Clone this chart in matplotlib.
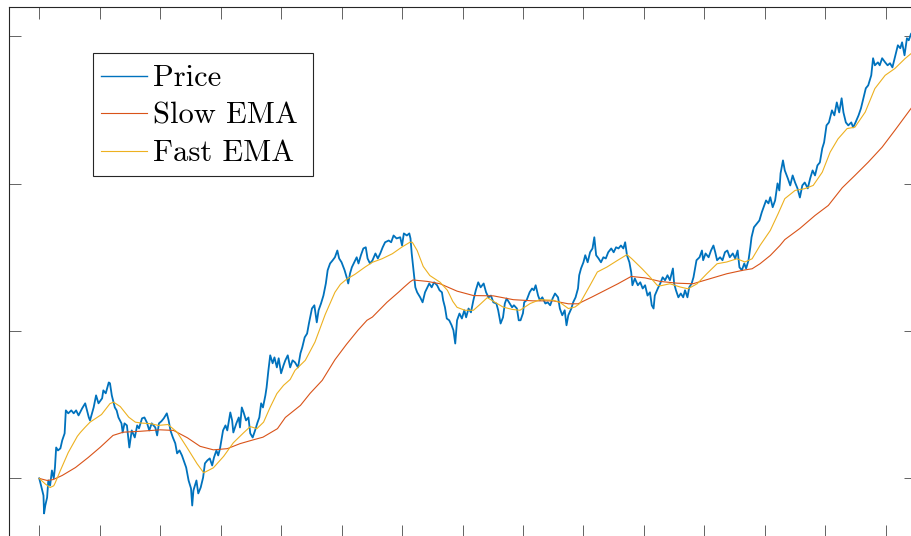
import matplotlib
matplotlib.use("Agg")
import matplotlib.pyplot as plt
from matplotlib.patches import Rectangle

# Daily price series (trading day, price)
price_day = [
    0, 3, 7, 8, 10, 13, 15, 18, 21, 24, 26, 28, 31, 35, 38, 42, 44, 48, 53, 57,
    61, 65, 71, 76, 82, 84, 90, 94, 98, 104, 106, 110, 115, 117, 120, 125, 128, 131, 136, 138,
    141, 145, 149, 153, 158, 162, 165, 170, 174, 178, 182, 186, 192, 195, 198,
    202, 206, 211, 214, 217, 221, 225, 228, 232, 236, 240, 243, 247, 251, 253, 255, 260, 263, 267, 271,
    274, 278, 282, 286, 289, 293, 296, 299, 304, 308, 311, 316, 319, 321, 326, 330, 332, 335, 338, 342,
    346, 349, 353, 357, 361, 364, 367, 370, 374, 376, 379, 382, 386, 389, 393, 396, 400, 404,
    407, 411, 415, 419, 423, 428, 432, 435, 439, 443, 446, 451, 455, 459, 462, 466, 470, 474, 477, 481,
    485, 489, 493, 496, 500, 505, 509, 511, 514, 517, 521, 525, 528, 532, 536, 540, 543, 547, 551, 556,
    560, 564, 568, 572, 578, 582, 586, 591, 597, 600, 603, 608, 612,
    614, 616, 619, 622, 625, 630, 634, 638, 642, 645, 649, 653, 658, 662, 666, 668, 671, 674, 678, 682,
    685, 688, 691, 695, 699, 703, 706, 710, 714, 718, 722, 726, 730, 735, 739, 743, 747, 751, 756, 759,
    763, 767, 770, 773, 778, 782, 785, 790, 793, 796, 800, 802, 806, 811, 815, 818,
    821, 825, 828, 832, 837, 841, 845, 849, 853, 858, 861, 865, 869, 872, 875, 880, 883, 887, 891, 893,
    896, 900, 903, 907, 911, 915, 918, 921, 925, 929, 933, 937, 941, 946, 950, 954, 958, 962, 966, 969,
    972, 976, 979, 981, 985, 990, 994, 998, 1002, 1006, 1010, 1013, 1016, 1018, 1023, 1027,
    1031, 1035, 1039, 1043, 1048, 1050, 1053, 1057, 1061, 1065, 1068, 1072, 1075, 1079, 1082, 1085, 1087, 1092, 1096, 1098,
    1102, 1107, 1111, 1115, 1118, 1121, 1126, 1130, 1134, 1138, 1142, 1147, 1151, 1155, 1158, 1162, 1166, 1169, 1173, 1176,
    1178, 1182, 1187, 1191, 1195, 1199, 1202, 1206, 1209, 1213, 1217, 1221, 1224, 1226, 1230, 1233,
    1238, 1242, 1246, 1250, 1254, 1258, 1262, 1266, 1271, 1275, 1279, 1283, 1287, 1291, 1295, 1298, 1302, 1306, 1311, 1315,
    1319, 1323, 1327, 1330, 1334, 1338, 1343, 1346, 1350, 1355, 1359, 1363, 1367, 1371, 1376, 1379, 1382, 1387, 1390, 1394,
    1399, 1403, 1407, 1411, 1415, 1420, 1424, 1427, 1431, 1435, 1438, 1442, 1450,
]
price = [
    99.9, 97.5, 94.1, 88.0, 90.7, 93.4, 99.2, 97.5, 102.6, 99.9, 103.6, 110.4, 109.4, 110.1, 112.8, 115.2, 123.0, 122.0, 123.0, 122.0,
    123.0, 121.3, 123.7, 125.4, 120.6, 119.6, 124.0, 128.1, 125.4, 127.1, 129.8, 128.8, 132.5, 132.2, 128.1, 124.0, 123.0, 120.6, 118.6, 115.5,
    118.6, 117.9, 110.4, 116.2, 113.8, 117.9, 116.9, 120.3, 120.6, 118.9, 116.2, 118.6, 117.2, 114.5, 118.6,
    119.3, 120.3, 122.0, 119.6, 116.2, 113.8, 111.8, 108.4, 109.4, 107.7, 105.3, 103.6, 99.2, 96.5, 90.7, 95.8, 99.2, 94.8, 96.8, 100.2,
    105.0, 106.0, 106.7, 104.3, 107.0, 109.4, 107.7, 110.1, 116.2, 117.9, 116.2, 122.3, 119.6, 115.5, 118.6, 120.6, 117.2, 124.0, 122.3, 119.6,
    120.6, 115.2, 113.8, 116.2, 118.9, 120.6, 125.4, 124.0, 128.1, 130.8, 136.6, 141.7, 139.0, 141.0, 137.6, 140.7, 135.6, 138.3,
    140.0, 141.7, 137.6, 140.0, 139.3, 137.6, 142.4, 144.4, 147.8, 149.1, 152.5, 157.6, 158.7, 152.9, 157.0, 159.3, 162.0, 166.1, 170.6, 172.9,
    173.9, 175.0, 177.3, 174.6, 173.3, 170.6, 167.8, 166.1, 169.5, 171.6, 173.3, 175.0, 172.9, 175.7, 178.0, 178.4, 174.6, 172.9, 173.9, 176.3,
    174.6, 176.3, 178.4, 180.1, 180.7, 180.1, 182.4, 181.4, 181.8, 179.0, 183.1, 182.4, 183.1,
    181.4, 176.3, 170.6, 164.8, 163.1, 161.4, 159.7, 163.1, 164.8, 166.1, 164.8, 166.5, 165.5, 163.8, 163.1, 160.4, 158.0, 154.2, 153.6, 151.9,
    150.2, 145.7, 153.6, 155.9, 154.2, 157.0, 154.6, 157.6, 156.3, 160.4, 163.8, 166.5, 164.8, 166.1, 163.1, 161.4, 162.0, 159.7, 159.3, 157.0,
    152.5, 154.6, 159.3, 161.0, 159.3, 158.0, 158.7, 157.6, 153.6, 153.6, 156.0, 159.7, 160.4, 163.1, 164.4, 163.8,
    165.5, 162.0, 160.4, 161.4, 159.3, 159.7, 158.7, 161.0, 162.7, 161.4, 157.6, 155.3, 157.0, 151.9, 155.3, 157.6, 159.7, 161.4, 164.4, 168.9,
    171.2, 173.3, 175.7, 173.3, 176.7, 178.0, 181.8, 175.7, 174.6, 173.3, 175.0, 174.6, 176.7, 178.0, 176.7, 178.4, 178.0, 179.0, 178.0, 180.1,
    175.7, 173.3, 169.9, 165.5, 167.8, 165.5, 166.5, 164.4, 165.5, 162.0, 163.1, 158.7, 157.6, 162.0, 164.4, 166.1,
    168.2, 167.2, 168.9, 167.2, 171.2, 166.1, 163.8, 161.4, 162.7, 161.4, 163.8, 161.4, 164.8, 166.1, 168.2, 171.6, 174.0, 175.0, 177.3, 174.0,
    176.3, 175.0, 177.3, 179.0, 176.7, 174.0, 175.0, 174.0, 176.7, 177.3, 175.0, 176.3, 174.6, 177.3, 171.6, 170.6, 172.9, 171.2, 174.0, 178.4,
    181.8, 185.2, 186.5, 187.5, 190.3, 192.6, 194.3, 193.3, 195.4, 192.0, 194.3, 200.1, 197.7, 203.5, 207.9, 204.5,
    201.8, 199.4, 202.8, 200.4, 198.4, 195.3, 199.4, 200.4, 198.4, 201.8, 204.5, 202.8, 206.2, 207.2, 212.0, 214.0, 219.8, 220.8, 224.9, 223.2,
    227.6, 224.2, 229.0, 224.2, 220.8, 219.8, 220.8, 219.1, 220.8, 223.2, 225.6, 229.0, 232.4, 233.4, 236.8, 242.6, 240.2, 241.2, 240.2, 242.6,
    241.2, 240.2, 240.9, 239.5, 242.9, 247.0, 246.0, 248.0, 243.6, 249.4, 248.7, 251.0, 250.0,
]

# Slow exponential moving average
slow_day = [
    0, 13, 23, 38, 60, 81, 101, 122, 139, 167, 200, 222, 245, 266, 288, 311, 332, 354, 370, 394,
    407, 432, 448, 468, 489, 508, 527, 542, 551, 575, 594, 603, 613, 618, 642, 663, 691, 718, 751, 784,
    817, 850, 875, 891, 914, 936, 957, 979, 1002, 1027, 1055, 1081, 1109, 1137, 1164, 1179, 1192, 1209, 1225, 1233,
    1258, 1283, 1305, 1328, 1349, 1371, 1394, 1415, 1442,
]
slow_ema = [
    99.9, 99.2, 99.5, 100.9, 103.6, 107.0, 110.5, 114.5, 115.6, 115.9, 116.4, 116.2, 113.7, 110.8, 109.6, 110.0, 111.7, 113.0, 113.9, 116.8,
    120.6, 124.7, 128.8, 133.2, 140.2, 145.4, 150.2, 153.6, 154.7, 159.7, 163.1, 164.8, 166.6, 167.3, 166.8, 166.0, 163.5, 162.0, 161.9, 160.6,
    160.2, 160.2, 159.2, 159.2, 161.5, 163.8, 166.0, 168.5, 168.0, 166.8, 166.2, 166.0, 167.7, 169.4, 170.6, 171.1, 172.8, 175.6, 179.0, 181.0,
    184.8, 189.2, 192.6, 198.6, 202.8, 207.3, 212.4, 218.1, 225.6,
]

# Fast exponential moving average
fast_day = [
    0, 10, 18, 24, 26, 35, 48, 63, 68, 76, 84, 103, 117, 123, 134, 148, 159, 169, 184, 197,
    213, 228, 244, 261, 272, 288, 305, 321, 338, 349, 360, 371, 382, 393, 404, 415, 423, 440, 456, 473,
    489, 498, 508, 522, 539, 551, 567, 584, 600, 613, 617, 625, 635, 646, 663, 675, 684, 691, 704, 718,
    729, 741, 754, 767, 782, 795, 812, 828, 850, 861, 875, 886, 894, 911, 923, 939, 956, 972, 980, 997,
    1010, 1022, 1027, 1043, 1060, 1073, 1088, 1104, 1121, 1137, 1154, 1167, 1179, 1192, 1209, 1222, 1233, 1250, 1266, 1280,
    1295, 1308, 1321, 1336, 1349, 1366, 1382, 1399, 1415, 1432, 1442,
]
fast_ema = [
    99.9, 98.0, 96.8, 97.4, 98.2, 102.6, 108.7, 114.2, 115.5, 117.3, 119.0, 121.6, 125.3, 125.8, 124.3, 120.7, 119.0, 118.7, 118.5, 117.9,
    118.2, 115.6, 110.5, 104.9, 101.8, 103.5, 107.4, 112.0, 115.4, 117.5, 116.8, 119.0, 124.1, 128.7, 131.5, 133.5, 136.6, 140.0, 146.2, 155.6,
    163.1, 165.8, 167.5, 169.2, 171.7, 173.3, 174.5, 176.2, 178.5, 180.1, 180.1, 177.3, 171.9, 168.8, 166.5, 163.8, 160.0, 158.0, 157.0, 157.0,
    159.0, 161.3, 159.7, 158.1, 157.3, 157.0, 159.3, 160.6, 160.4, 159.7, 157.6, 158.1, 159.3, 165.5, 170.0, 171.7, 173.9, 175.9, 174.5, 171.1,
    168.3, 165.5, 165.3, 166.0, 164.9, 164.3, 166.0, 169.4, 172.8, 173.4, 174.5, 173.4, 174.5, 179.0, 184.1, 189.8, 194.9, 197.7, 198.3, 199.4,
    203.9, 210.7, 215.2, 218.7, 219.2, 224.3, 232.3, 236.8, 239.1, 242.5, 244.2,
]

series_labels = ["Price", "Slow EMA", "Fast EMA"]
series_colors = ["#0072BD", "#D95319", "#EDB120"]
x_ticks = list(range(0, 1401, 100))
y_ticks = [100, 150, 200, 250]

W, H = 911, 536
fig = plt.figure(figsize=(W / 100, H / 100), dpi=100)
ax = fig.add_axes([9 / W, -1 / H, 907 / W, 530 / H])

h_price, = ax.plot(price_day, price, color=series_colors[0], lw=1.3)
h_slow, = ax.plot(slow_day, slow_ema, color=series_colors[1], lw=0.8)
h_fast, = ax.plot(fast_day, fast_ema, color=series_colors[2], lw=0.8)

ax.set_xlim(-50, 1450)
ax.set_ylim(80, 260)
ax.set_xticks(x_ticks)
ax.set_yticks(y_ticks)
ax.tick_params(direction="in", length=8.4, width=0.5, color="#262626",
               top=True, right=True, labelbottom=False, labelleft=False)
for sp in ax.spines.values():
    sp.set_color("#262626")
    sp.set_linewidth(0.8)

# legend box with MATLAB-like padding
fig.patches.append(Rectangle((93 / W, 1 - 176 / H), 220 / W, 123 / H,
                             transform=fig.transFigure, facecolor="white",
                             edgecolor="#262626", lw=0.8, zorder=3))
leg = fig.legend([h_price, h_slow, h_fast], series_labels, loc="upper left",
                 bbox_to_anchor=(101 / W, 1 - 65 / H), bbox_transform=fig.transFigure,
                 frameon=False, borderpad=0, borderaxespad=0, handlelength=1.5,
                 handletextpad=0.2, labelspacing=0.33,
                 prop={"family": "cmr10", "size": 22})
leg.legend_handles[0].set_linewidth(1.0)

fig.savefig("out.png", dpi=100)
